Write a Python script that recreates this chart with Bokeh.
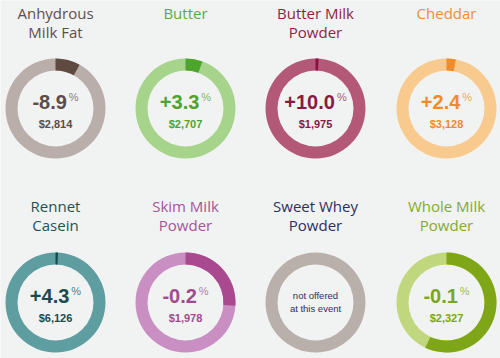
import math
from bokeh.plotting import figure
from bokeh.models import Range1d, ColumnDataSource
from bokeh.core.properties import value
from bokeh.embed import file_html
from bokeh.resources import INLINE

# ---- data ----
titles = [["Anhydrous", "Milk Fat"], ["Butter"], ["Butter Milk", "Powder"], ["Cheddar"],
          ["Rennet", "Casein"], ["Skim Milk", "Powder"], ["Sweet Whey", "Powder"], ["Whole Milk", "Powder"]]
changes = [-8.9, 3.3, 10.0, 2.4, 4.3, -0.2, None, -0.1]
prices = [2814, 2707, 1975, 3128, 6126, 1978, None, 2327]
shares = [8.0, 5.5, 1.0, 3.0, 0.8, 26.0, 0.0, 57.0]
not_offered = ["not offered", "at this event"]

light_cols = ["#b9aea9", "#a6d48b", "#b35876", "#f9ca8d", "#5e9ea1", "#c98fc2", "#bab0ab", "#c0d77d"]
dark_cols = ["#5f4a42", "#4ea52c", "#8e0f3e", "#f28b2a", "#114b4f", "#a9498f", "#bab0ab", "#7ea616"]
text_cols = ["#5b4d47", "#4fa32f", "#8a1a40", "#f08a2c", "#1a4b4f", "#a24a8e", "#2d2f5e", "#7ca524"]
title_cols = ["#5c504b", "#5aab3f", "#8e1f45", "#f08d3a", "#1e5256", "#a5559a", "#2d2f5e", "#84ab2b"]

W, H = 500, 358
BG = "#f1f2f2"

p = figure(width=W, height=H, x_range=Range1d(0, W), y_range=Range1d(0, H),
           output_backend="svg", toolbar_location=None, min_border=0)
p.axis.visible = False
p.grid.visible = False
p.outline_line_color = None
p.background_fill_color = BG
p.border_fill_color = BG

col_x = [55, 185, 315, 446]
ring_cy = [108, 302]
title_y = [[12, 31], [205, 224]]
R_OUT, R_IN = 50, 38

# approximate glyph widths (Arial/Liberation metrics, em)
bold_w = {c: 0.556 for c in "0123456789"}
bold_w.update({"+": 0.584, "-": 0.333, ".": 0.278})

def sy(y):
    return H - y

ring = dict(x=[], y=[], c=[])
wedge = dict(x=[], y=[], c=[], s=[], e=[])
for i in range(8):
    cx = col_x[i % 4]
    cy = sy(ring_cy[i // 4])
    ring["x"].append(cx); ring["y"].append(cy); ring["c"].append(light_cols[i])
    if shares[i] > 0:
        wedge["x"].append(cx); wedge["y"].append(cy); wedge["c"].append(dark_cols[i])
        wedge["s"].append(math.pi / 2)
        wedge["e"].append(math.pi / 2 - 2 * math.pi * shares[i] / 100.0)

p.annulus(x="x", y="y", inner_radius=R_IN, outer_radius=R_OUT, fill_color="c",
          line_color=None, source=ColumnDataSource(ring))
p.annular_wedge(x="x", y="y", inner_radius=R_IN, outer_radius=R_OUT, start_angle="s",
                end_angle="e", direction="clock", fill_color="c", line_color=None,
                source=ColumnDataSource(wedge))

TITLE_FONT = value("Open Sans")
NUM_FONT = value("Liberation Sans")

for i in range(8):
    cx = col_x[i % 4]
    row = i // 4
    cyy = ring_cy[row]
    lines = titles[i]
    ys = title_y[row] if len(lines) == 2 else [title_y[row][0]]
    for ln, ty in zip(lines, ys):
        p.text(x=[cx], y=[sy(ty)], text=[ln], text_font=TITLE_FONT, text_font_size="15px",
               text_color=title_cols[i], text_align="center", text_baseline="middle")
    if changes[i] is None:
        for ln, dy in zip(not_offered, [-7, 6]):
            p.text(x=[cx], y=[sy(cyy + dy)], text=[ln], text_font=NUM_FONT,
                   text_font_size="9.5px", text_color=text_cols[i],
                   text_align="center", text_baseline="middle")
        continue
    num = f"{changes[i]:+.1f}"
    fs = 20
    nw = sum(bold_w.get(ch, 0.556) for ch in num) * fs
    pw = 0.889 * 11
    gap = 2
    x0 = cx - (nw + gap + pw) / 2
    p.text(x=[x0], y=[sy(cyy - 7)], text=[num], text_font=NUM_FONT, text_font_style="bold",
           text_font_size=f"{fs}px", text_color=text_cols[i], text_align="left",
           text_baseline="middle")
    p.text(x=[x0 + nw + gap], y=[sy(cyy - 12)], text=["%"], text_font=NUM_FONT,
           text_font_size="11px", text_color=text_cols[i], text_alpha=0.75,
           text_align="left", text_baseline="middle")
    p.text(x=[cx], y=[sy(cyy + 15)], text=[f"${prices[i]:,}"], text_font=NUM_FONT,
           text_font_style="bold", text_font_size="11px", text_color=text_cols[i],
           text_align="center", text_baseline="middle")

open("out.html", "w").write(file_html(p, INLINE))
